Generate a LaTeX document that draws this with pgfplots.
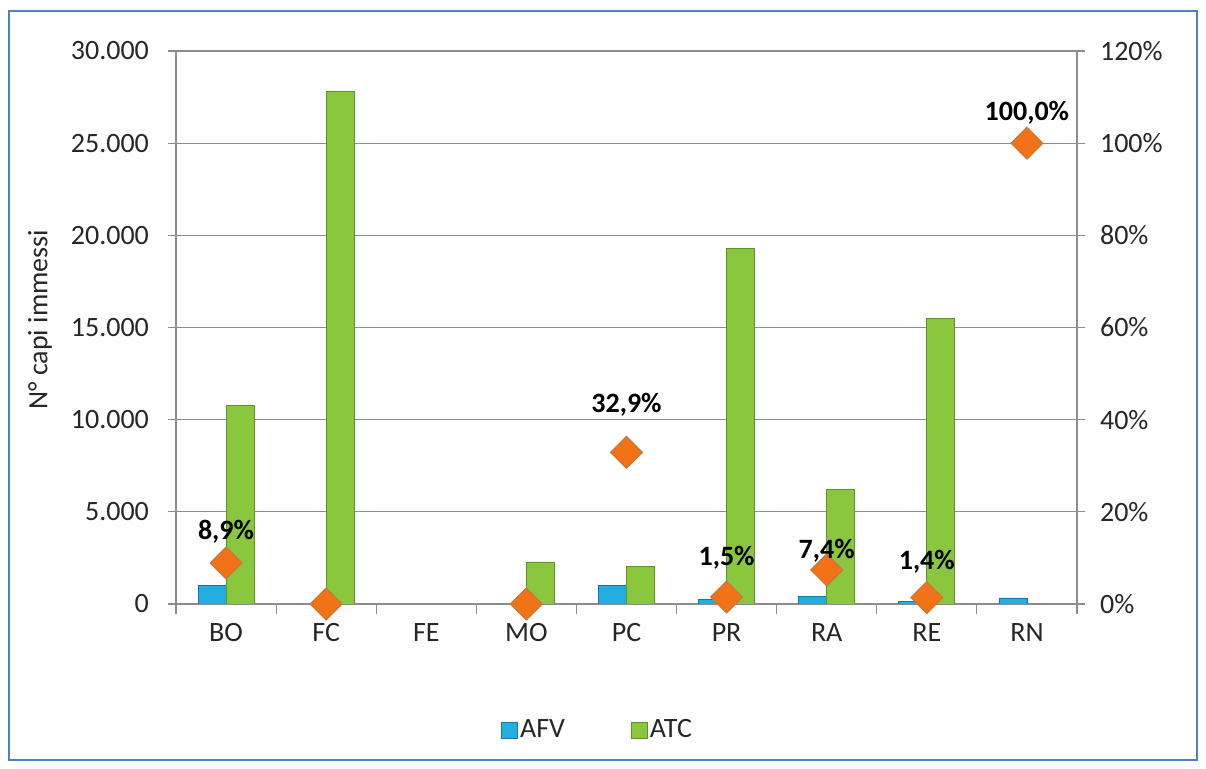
\documentclass[border=0pt]{standalone}
\usepackage{fontspec}
\setmainfont{Carlito}
\usepackage{pgfplots}
\pgfplotsset{compat=1.18}

\definecolor{afv}{RGB}{34,174,224}
\definecolor{afvedge}{RGB}{22,120,165}
\definecolor{atc}{RGB}{138,198,62}
\definecolor{atcedge}{RGB}{92,148,38}
\definecolor{pct}{RGB}{242,114,22}
\definecolor{pctedge}{RGB}{200,120,60}
\definecolor{frameblue}{RGB}{79,129,189}
\definecolor{gridgray}{RGB}{140,140,140}

\newcommand{\chartfont}{\fontsize{14}{16}\selectfont}
\pgfplotsset{squarelegend/.style={legend image code/.code={\draw[##1] (0pt,-4pt) rectangle (8pt,4pt);}}}

\begin{document}
\begin{tikzpicture}
% 1 px of the reference = 0.5pt, plot area lower-left at the origin
\useasboundingbox (-88pt,-82.5pt) rectangle (515pt,302pt);
\draw[frameblue, line width=1pt] (-83.5pt,-78pt) rectangle (510.5pt,296.5pt);

\begin{axis}[
    at={(0,0)}, anchor=south west,
    scale only axis, width=450.5pt, height=276.5pt,
    xmin=-0.5, xmax=8.5, ymin=0, ymax=30000,
    axis x line*=bottom, axis y line*=left,
    axis line style={gridgray, line width=0.6pt},
    tick style={gridgray, line width=0.6pt},
    tick align=outside,
    major tick length=4pt, minor tick length=5pt,
    xtick={0,...,8},
    xticklabels={BO,FC,FE,MO,PC,PR,RA,RE,RN},
    major x tick style={draw=none},
    minor xtick={-0.5,0.5,...,8.5},
    ytick={0,5000,...,30000},
    yticklabels={0,5.000,10.000,15.000,20.000,25.000,30.000},
    scaled y ticks=false,
    ymajorgrids,
    grid style={gridgray, line width=0.6pt},
    tick label style={font=\chartfont, text=black!85},
    xticklabel style={yshift=-2pt},
    yticklabel style={xshift=-6pt},
    ylabel={N° capi immessi},
    ylabel style={at={(axis description cs:-0.151,0.514)}, anchor=center, font=\chartfont, text=black!85},
    legend style={at={(0.468,-0.228)}, anchor=center, draw=none, fill=none,
        font=\chartfont, text=black!85, legend columns=2,
        /tikz/every even column/.append style={column sep=32pt},
        nodes={inner sep=1pt}},
]
\addplot[ybar, bar width=14pt, bar shift=-7pt, fill=afv, draw=afvedge, squarelegend]
    coordinates {(0,1030) (4,1030) (5,270) (6,400) (7,120) (8,330)};
\addlegendentry{AFV}
\addplot[ybar, bar width=14pt, bar shift=7pt, fill=atc, draw=atcedge, squarelegend]
    coordinates {(0,10750) (1,27800) (3,2280) (4,2060) (5,19300) (6,6190) (7,15500)};
\addlegendentry{ATC}
\end{axis}

\begin{axis}[
    at={(0,0)}, anchor=south west,
    scale only axis, width=450.5pt, height=276.5pt,
    xmin=-0.5, xmax=8.5, ymin=0, ymax=120,
    axis x line=none, axis y line*=right,
    axis line style={gridgray, line width=0.6pt},
    tick style={gridgray, line width=0.6pt},
    tick align=outside, major tick length=4pt,
    ytick={0,20,...,120},
    yticklabels={0\%,20\%,40\%,60\%,80\%,100\%,120\%},
    tick label style={font=\chartfont, text=black!85},
    yticklabel style={xshift=4pt},
    clip=false,
]
\addplot[only marks, mark=square*, mark size=5.6pt,
    mark options={rotate=45, fill=pct, draw=pctedge, line width=0.6pt}]
    coordinates {(0,8.9) (1,0) (3,0) (4,32.9) (5,1.5) (6,7.4) (7,1.4) (8,100)};
\addplot[draw=none, mark=none, nodes near coords, point meta=explicit symbolic,
    nodes near coords style={anchor=center, font=\chartfont\bfseries, text=black}]
    table[meta=label] {
x y label
0 15.6 {8,9\%}
4 43.2 {32,9\%}
5 10.0 {1,5\%}
6 11.5 {7,4\%}
7 9.1 {1,4\%}
8 106.6 {100,0\%}
};
\end{axis}
\end{tikzpicture}
\end{document}
